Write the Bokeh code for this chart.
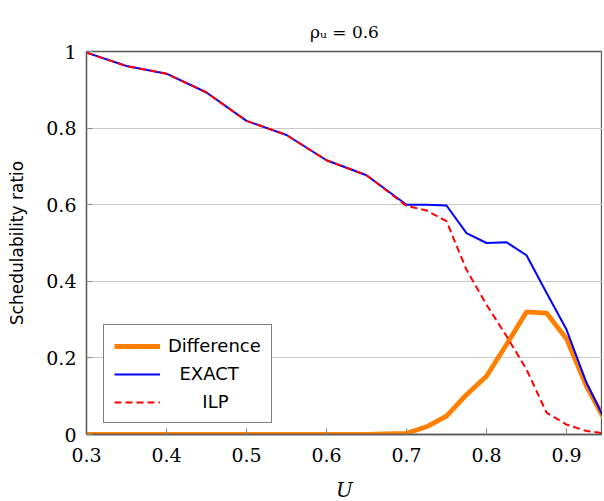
from bokeh.plotting import figure
from bokeh.models import FixedTicker, Legend, LegendItem, Range1d
from bokeh.embed import file_html
from bokeh.resources import INLINE

# ---- data ----
U = [0.30, 0.35, 0.40, 0.45, 0.50, 0.55, 0.60, 0.65, 0.70, 0.725, 0.75,
     0.775, 0.80, 0.825, 0.85, 0.875, 0.90, 0.925, 0.95]
exact = [0.997, 0.962, 0.942, 0.893, 0.819, 0.782, 0.716, 0.677, 0.600,
         0.600, 0.598, 0.526, 0.500, 0.502, 0.468, 0.370, 0.274, 0.135, 0.030]
ilp = [0.997, 0.962, 0.942, 0.893, 0.819, 0.782, 0.716, 0.677, 0.597,
       0.585, 0.557, 0.430, 0.339, 0.257, 0.170, 0.057, 0.026, 0.009, 0.002]
diff = [0.0, 0.0, 0.0, 0.0, 0.0, 0.0, 0.0, 0.0, 0.003, 0.020, 0.048,
        0.104, 0.152, 0.235, 0.320, 0.317, 0.250, 0.126, 0.030]
xticks = [0.3, 0.4, 0.5, 0.6, 0.7, 0.8, 0.9]
xtick_labels = ["0.3", "0.4", "0.5", "0.6", "0.7", "0.8", "0.9"]
yticks = [0, 0.2, 0.4, 0.6, 0.8, 1.0]
ytick_labels = ["0", "0.2", "0.4", "0.6", "0.8", "1"]

SERIF = "DejaVu Serif"
SANS = "DejaVu Sans"
AXIS_COLOR = "#5a5a5a"

p = figure(frame_width=516, frame_height=383, output_backend="svg",
           toolbar_location=None, x_range=Range1d(0.3, 0.945),
           y_range=Range1d(0, 1), title="ρᵤ = 0.6",
           min_border_left=86, min_border_top=51, min_border_bottom=64,
           min_border_right=0, background_fill_color="white",
           border_fill_color="white")
p.outline_line_color = AXIS_COLOR
p.outline_line_width = 1.3

p.title.align = "center"
p.title.text_font = SERIF
p.title.text_font_style = "normal"
p.title.text_font_size = "17px"
p.title.text_color = "black"
p.title.standoff = 19

# axes
for ax, ticks, labels in ((p.xaxis[0], xticks, xtick_labels),
                          (p.yaxis[0], yticks, ytick_labels)):
    ax.ticker = FixedTicker(ticks=ticks)
    ax.major_label_overrides = {t: l for t, l in zip(ticks, labels)}
    ax.major_tick_in = 6
    ax.major_tick_out = 0
    ax.minor_tick_line_color = None
    ax.axis_line_color = AXIS_COLOR
    ax.axis_line_width = 1.3
    ax.major_tick_line_color = "#888888"
    ax.major_label_text_font = SERIF
    ax.major_label_text_font_size = "19px"
    ax.major_label_text_color = "black"

p.xaxis[0].major_label_standoff = 13
p.yaxis[0].major_label_standoff = 10
p.xaxis[0].axis_label = "U"
p.xaxis[0].axis_label_text_font = SERIF
p.xaxis[0].axis_label_text_font_style = "italic"
p.xaxis[0].axis_label_text_font_size = "20px"
p.xaxis[0].axis_label_text_color = "black"
p.xaxis[0].axis_label_standoff = 13
p.yaxis[0].axis_label = "Schedulability ratio"
p.yaxis[0].axis_label_text_font = SANS
p.yaxis[0].axis_label_text_font_style = "normal"
p.yaxis[0].axis_label_text_font_size = "17px"
p.yaxis[0].axis_label_text_color = "black"
p.yaxis[0].axis_label_standoff = 16

p.xgrid.grid_line_color = None
p.ygrid.ticker = FixedTicker(ticks=yticks)
p.ygrid.grid_line_color = "#c8c8c8"
p.ygrid.grid_line_width = 1

# series
r_diff = p.line(U, diff, line_color="#ff8000", line_width=4.8)
r_exact = p.line(U, exact, line_color="#0000ff", line_width=2)
r_ilp = p.line(U, ilp, line_color="#ff0000", line_width=2, line_dash="7 4")

nb = "\u00a0"
legend = Legend(items=[LegendItem(label="Difference", renderers=[r_diff]),
                       LegendItem(label=nb * 2 + "EXACT", renderers=[r_exact]),
                       LegendItem(label=nb * 6 + "ILP", renderers=[r_ilp])],
                location=(17, 11), label_text_font=SANS,
                label_text_font_size="18px", label_text_color="black",
                glyph_width=46, glyph_height=20,
                spacing=7, padding=10, margin=0, label_standoff=8,
                border_line_color="black", border_line_width=1,
                background_fill_color="white", background_fill_alpha=1,
                label_height=20)
p.add_layout(legend, "center")

open("out.html", "w").write(file_html(p, INLINE))
